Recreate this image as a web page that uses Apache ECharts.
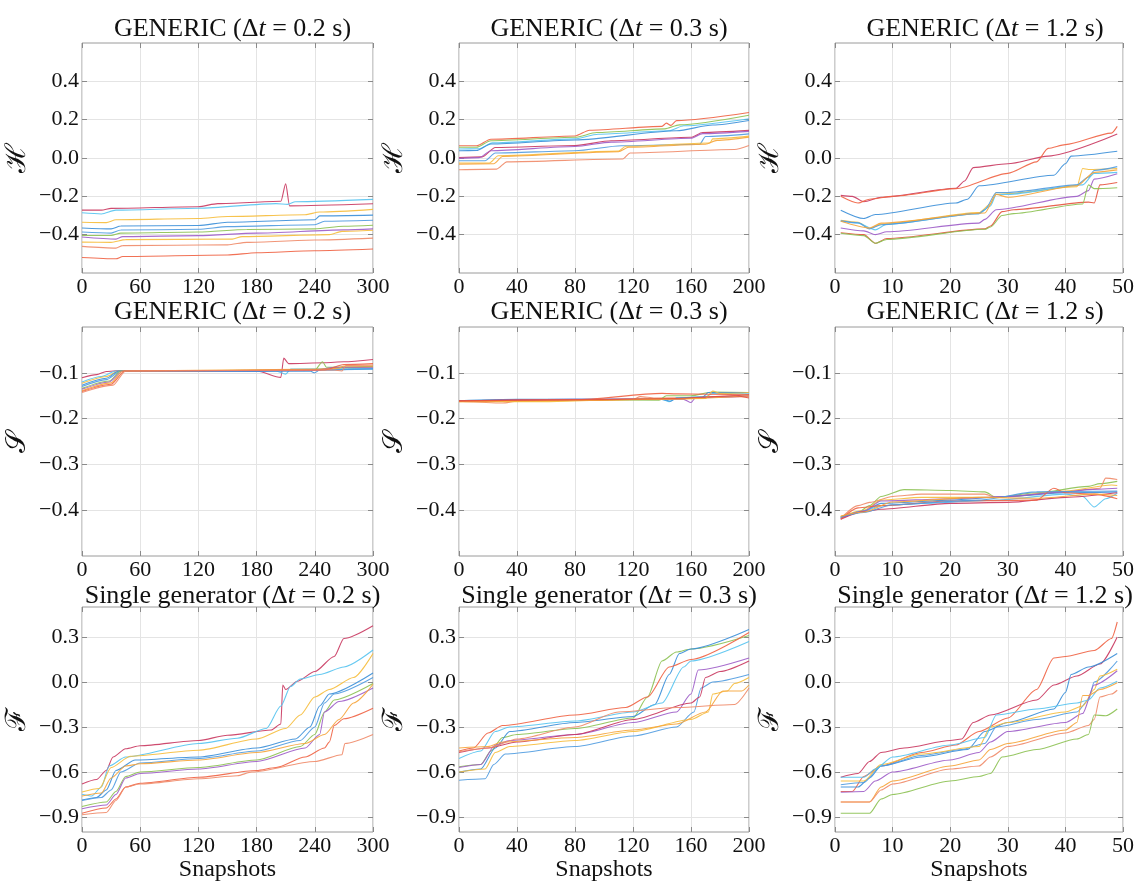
<!DOCTYPE html>
<html><head><meta charset="utf-8">
<script src="https://cdn.jsdelivr.net/npm/echarts@6/dist/echarts.min.js"></script>
<style>html,body{margin:0;padding:0;background:#fff}#c{width:1137px;height:883px}</style>
</head><body><div id="c"></div>
<script>
// ---------- tick labels / axes ----------
const xTicksCol1 = [0, 60, 120, 180, 240, 300];
const xTicksCol2 = [0, 40, 80, 120, 160, 200];
const xTicksCol3 = [0, 10, 20, 30, 40, 50];
const yTicksH = [-0.4, -0.2, 0.0, 0.2, 0.4];
const yTicksS = [-0.4, -0.3, -0.2, -0.1];
const yTicksF = [-0.9, -0.6, -0.3, 0.0, 0.3];
const rowTitles = ['GENERIC', 'GENERIC', 'Single generator'];
const colDt = ['0.2', '0.3', '1.2'];
const rowNames = ['ℋ', '𝒮', 'ℱ'];

// ---------- data: each panel = 10 series of [snapshot, value] ----------
const H02 = [
 [[0,-0.272],[20,-0.272],[30,-0.263],[120,-0.254],[140,-0.238],[205,-0.226],[210,-0.135],[214,-0.25],[300,-0.239]],
 [[0,-0.286],[20,-0.292],[35,-0.272],[120,-0.262],[200,-0.238],[212,-0.242],[220,-0.228],[300,-0.216]],
 [[0,-0.335],[25,-0.337],[35,-0.322],[120,-0.316],[150,-0.305],[230,-0.296],[245,-0.282],[300,-0.268]],
 [[0,-0.365],[30,-0.37],[40,-0.355],[120,-0.352],[150,-0.335],[240,-0.322],[245,-0.302],[300,-0.298]],
 [[0,-0.386],[30,-0.392],[40,-0.376],[120,-0.372],[150,-0.358],[240,-0.348],[250,-0.33],[300,-0.325]],
 [[0,-0.404],[30,-0.404],[40,-0.392],[120,-0.386],[170,-0.373],[240,-0.37],[270,-0.356],[300,-0.351]],
 [[0,-0.412],[35,-0.423],[42,-0.41],[120,-0.405],[180,-0.392],[270,-0.375],[300,-0.37]],
 [[0,-0.439],[30,-0.44],[45,-0.426],[155,-0.423],[165,-0.41],[255,-0.40],[268,-0.383],[300,-0.377]],
 [[0,-0.461],[35,-0.47],[42,-0.457],[150,-0.453],[170,-0.44],[240,-0.428],[300,-0.418]],
 [[0,-0.519],[35,-0.526],[42,-0.514],[150,-0.506],[180,-0.494],[240,-0.484],[300,-0.475]]
];
const H03 = [
 [[0,0.064],[12,0.064],[22,0.098],[80,0.115],[90,0.145],[140,0.165],[143,0.182],[146,0.17],[150,0.195],[200,0.237]],
 [[0,0.056],[12,0.056],[22,0.09],[80,0.108],[95,0.133],[142,0.152],[152,0.173],[200,0.223]],
 [[0,0.047],[14,0.048],[23,0.079],[80,0.1],[96,0.124],[145,0.142],[155,0.168],[200,0.205]],
 [[0,0.038],[12,0.039],[22,0.073],[80,0.094],[150,0.142],[175,0.172],[200,0.196]],
 [[0,0.003],[16,0.006],[25,0.055],[80,0.065],[105,0.09],[160,0.108],[168,0.133],[200,0.144]],
 [[0,-0.002],[14,0.002],[22,0.038],[80,0.06],[105,0.083],[160,0.103],[168,0.127],[200,0.139]],
 [[0,-0.014],[18,-0.014],[25,0.026],[80,0.038],[112,0.064],[166,0.072],[170,0.112],[200,0.126]],
 [[0,-0.026],[21,-0.026],[27,0.012],[110,0.036],[115,0.061],[173,0.078],[175,0.1],[200,0.114]],
 [[0,-0.032],[24,-0.03],[30,0.008],[110,0.033],[117,0.056],[170,0.072],[178,0.092],[200,0.109]],
 [[0,-0.061],[26,-0.058],[33,-0.02],[113,-0.005],[118,0.026],[190,0.044],[200,0.065]]
];
const H12 = [
 [[1,-0.195],[3,-0.2],[5,-0.228],[8,-0.205],[21,-0.158],[22.5,-0.12],[24,-0.05],[30,-0.03],[37,0.01],[49,0.125]],
 [[1,-0.2],[4,-0.235],[6,-0.215],[10,-0.2],[21,-0.16],[30,-0.08],[35,-0.02],[37,0.05],[40,0.07],[48,0.13],[49,0.165]],
 [[1,-0.272],[5,-0.316],[7,-0.295],[21,-0.235],[23,-0.215],[25,-0.145],[38,-0.09],[40,-0.03],[41,0.01],[49,0.035]],
 [[1,-0.325],[4,-0.335],[6,-0.368],[8,-0.345],[25,-0.285],[27,-0.24],[28,-0.18],[30,-0.185],[42,-0.15],[43,-0.055],[44,-0.06],[49,-0.055]],
 [[1,-0.33],[4,-0.34],[7,-0.375],[9,-0.345],[25,-0.29],[27,-0.25],[28,-0.19],[30,-0.19],[43,-0.14],[45,-0.08],[49,-0.075]],
 [[1,-0.328],[4,-0.338],[6,-0.37],[8,-0.348],[25,-0.29],[26,-0.27],[28,-0.18],[30,-0.18],[42,-0.14],[44,-0.1],[45,-0.065],[49,-0.045]],
 [[1,-0.33],[6,-0.365],[8,-0.34],[26,-0.287],[28,-0.19],[30,-0.205],[42,-0.145],[45,-0.075],[49,-0.062]],
 [[1,-0.365],[5,-0.38],[7,-0.4],[9,-0.385],[25,-0.34],[26,-0.32],[28,-0.27],[42,-0.2],[44,-0.17],[45,-0.11],[49,-0.082]],
 [[1,-0.39],[5,-0.4],[7,-0.445],[9,-0.42],[26,-0.37],[27,-0.355],[29,-0.28],[31,-0.27],[44,-0.23],[45,-0.235],[46,-0.14],[49,-0.128]],
 [[1,-0.393],[5,-0.405],[7,-0.445],[9,-0.425],[26,-0.372],[27,-0.36],[29,-0.3],[31,-0.29],[43,-0.24],[44,-0.14],[45,-0.16],[49,-0.155]]
];
const S02 = [
 [[0,-0.111],[15,-0.104],[25,-0.097],[40,-0.095],[120,-0.096],[180,-0.096],[205,-0.11],[208,-0.068],[213,-0.08],[250,-0.078],[270,-0.076],[300,-0.071]],
 [[0,-0.12],[20,-0.108],[35,-0.096],[120,-0.096],[200,-0.096],[210,-0.103],[215,-0.092],[300,-0.09]],
 [[0,-0.123],[25,-0.108],[38,-0.096],[120,-0.096],[240,-0.094],[260,-0.089],[300,-0.087]],
 [[0,-0.127],[25,-0.112],[38,-0.096],[180,-0.097],[235,-0.096],[240,-0.1],[245,-0.094],[300,-0.091]],
 [[0,-0.13],[25,-0.115],[40,-0.096],[200,-0.095],[300,-0.092]],
 [[0,-0.134],[28,-0.118],[40,-0.096],[240,-0.094],[248,-0.076],[252,-0.088],[300,-0.086]],
 [[0,-0.136],[28,-0.12],[42,-0.096],[240,-0.095],[260,-0.088],[300,-0.088]],
 [[0,-0.139],[30,-0.122],[42,-0.096],[250,-0.092],[265,-0.09],[270,-0.085],[300,-0.085]],
 [[0,-0.141],[30,-0.125],[44,-0.096],[250,-0.094],[270,-0.082],[300,-0.08]],
 [[0,-0.143],[32,-0.127],[45,-0.096],[260,-0.094],[268,-0.096],[272,-0.084],[300,-0.083]]
];
const S03 = [
 [[0,-0.162],[30,-0.166],[40,-0.162],[120,-0.158],[125,-0.152],[135,-0.155],[200,-0.152]],
 [[0,-0.162],[80,-0.159],[138,-0.16],[143,-0.15],[160,-0.15],[175,-0.142],[200,-0.143]],
 [[0,-0.162],[80,-0.158],[140,-0.158],[145,-0.163],[150,-0.155],[170,-0.152],[175,-0.145],[200,-0.146]],
 [[0,-0.161],[40,-0.158],[140,-0.158],[146,-0.162],[150,-0.155],[168,-0.153],[172,-0.143],[200,-0.143]],
 [[0,-0.161],[80,-0.159],[150,-0.157],[180,-0.152],[200,-0.148]],
 [[0,-0.162],[80,-0.158],[155,-0.158],[160,-0.165],[163,-0.155],[190,-0.152],[200,-0.15]],
 [[0,-0.163],[60,-0.163],[120,-0.158],[170,-0.156],[175,-0.14],[180,-0.145],[200,-0.143]],
 [[0,-0.163],[80,-0.16],[150,-0.157],[200,-0.15]],
 [[0,-0.162],[80,-0.159],[140,-0.145],[150,-0.146],[200,-0.148]],
 [[0,-0.161],[80,-0.159],[150,-0.156],[190,-0.15],[200,-0.155]]
];
const S12 = [
 [[1,-0.415],[4,-0.405],[6,-0.39],[8,-0.37],[12,-0.355],[20,-0.357],[26,-0.36],[28,-0.372],[35,-0.362],[44,-0.348],[46,-0.342],[49,-0.337]],
 [[1,-0.418],[4,-0.39],[6,-0.383],[10,-0.37],[15,-0.365],[26,-0.365],[28,-0.372],[40,-0.36],[46,-0.352],[47,-0.33],[49,-0.333]],
 [[1,-0.414],[5,-0.4],[8,-0.378],[15,-0.372],[28,-0.372],[30,-0.37],[40,-0.358],[48,-0.345],[49,-0.346]],
 [[1,-0.416],[5,-0.402],[8,-0.385],[20,-0.378],[30,-0.37],[40,-0.362],[49,-0.36]],
 [[1,-0.417],[5,-0.402],[8,-0.39],[15,-0.385],[28,-0.378],[40,-0.365],[43,-0.37],[45,-0.393],[47,-0.375],[49,-0.363]],
 [[1,-0.418],[5,-0.402],[8,-0.38],[20,-0.375],[30,-0.37],[40,-0.36],[44,-0.355],[49,-0.352]],
 [[1,-0.42],[5,-0.403],[8,-0.398],[20,-0.385],[30,-0.383],[40,-0.372],[49,-0.362]],
 [[1,-0.42],[4,-0.395],[8,-0.39],[20,-0.38],[35,-0.378],[38,-0.352],[40,-0.362],[45,-0.365],[49,-0.375]],
 [[1,-0.415],[5,-0.405],[10,-0.388],[25,-0.378],[35,-0.36],[49,-0.358]],
 [[1,-0.413],[5,-0.404],[10,-0.382],[25,-0.372],[35,-0.374],[45,-0.365],[49,-0.368]]
];
const F02 = [
 [[0,-0.68],[15,-0.65],[25,-0.59],[32,-0.5],[45,-0.445],[60,-0.425],[120,-0.39],[150,-0.355],[195,-0.32],[205,-0.28],[207,-0.02],[210,-0.05],[222,0.005],[240,0.07],[260,0.17],[270,0.29],[300,0.375]],
 [[0,-0.748],[10,-0.76],[20,-0.7],[28,-0.56],[45,-0.5],[120,-0.41],[160,-0.375],[190,-0.31],[205,-0.16],[215,-0.03],[225,0.02],[245,0.05],[270,0.1],[300,0.213]],
 [[0,-0.733],[18,-0.71],[30,-0.57],[50,-0.495],[120,-0.455],[180,-0.38],[210,-0.31],[225,-0.22],[240,-0.1],[255,-0.05],[280,0.03],[300,0.19]],
 [[0,-0.787],[15,-0.77],[25,-0.72],[35,-0.59],[55,-0.52],[120,-0.5],[180,-0.44],[220,-0.38],[235,-0.3],[245,-0.16],[255,-0.08],[300,0.06]],
 [[0,-0.79],[20,-0.77],[30,-0.72],[40,-0.6],[60,-0.54],[120,-0.51],[180,-0.46],[225,-0.39],[240,-0.3],[250,-0.14],[260,-0.08],[300,0.03]],
 [[0,-0.83],[25,-0.8],[35,-0.73],[45,-0.63],[60,-0.6],[120,-0.57],[180,-0.52],[225,-0.43],[240,-0.35],[250,-0.2],[260,-0.12],[300,-0.01]],
 [[0,-0.845],[25,-0.82],[35,-0.75],[45,-0.64],[60,-0.61],[120,-0.58],[180,-0.53],[230,-0.44],[245,-0.35],[250,-0.2],[265,-0.13],[300,-0.04]],
 [[0,-0.76],[20,-0.74],[30,-0.64],[45,-0.56],[60,-0.545],[120,-0.52],[180,-0.47],[230,-0.41],[250,-0.35],[265,-0.25],[280,-0.14],[300,-0.015]],
 [[0,-0.875],[25,-0.84],[35,-0.78],[45,-0.7],[60,-0.675],[120,-0.635],[180,-0.59],[200,-0.57],[230,-0.5],[250,-0.44],[255,-0.4],[260,-0.29],[270,-0.245],[300,-0.175]],
 [[0,-0.885],[25,-0.87],[35,-0.79],[45,-0.7],[60,-0.68],[120,-0.645],[160,-0.625],[175,-0.6],[240,-0.53],[268,-0.485],[271,-0.41],[300,-0.35]]
];
const F03 = [
 [[0,-0.565],[15,-0.55],[22,-0.46],[30,-0.37],[40,-0.35],[80,-0.31],[120,-0.24],[130,-0.1],[140,0.14],[150,0.2],[160,0.22],[200,0.31]],
 [[0,-0.6],[15,-0.58],[25,-0.44],[35,-0.33],[80,-0.27],[120,-0.23],[135,-0.15],[145,0.05],[152,0.19],[160,0.22],[200,0.35]],
 [[0,-0.655],[18,-0.645],[24,-0.55],[32,-0.48],[80,-0.43],[120,-0.36],[150,-0.3],[162,-0.2],[167,-0.04],[175,0],[200,0.05]],
 [[0,-0.46],[10,-0.44],[20,-0.34],[30,-0.29],[80,-0.22],[115,-0.17],[130,-0.1],[145,0.1],[160,0.15],[200,0.33]],
 [[0,-0.51],[15,-0.46],[25,-0.33],[35,-0.3],[80,-0.26],[120,-0.2],[140,-0.14],[155,0.1],[160,0.14],[200,0.27]],
 [[0,-0.57],[15,-0.55],[25,-0.42],[35,-0.39],[80,-0.35],[120,-0.27],[150,-0.2],[160,-0.08],[165,0.08],[200,0.16]],
 [[0,-0.47],[20,-0.44],[40,-0.4],[80,-0.35],[120,-0.25],[160,-0.14],[166,-0.1],[170,0.03],[180,0.07],[200,0.14]],
 [[0,-0.6],[18,-0.58],[25,-0.47],[35,-0.43],[80,-0.39],[120,-0.33],[160,-0.25],[172,-0.2],[175,-0.08],[185,-0.06],[190,-0.01],[200,0.03]],
 [[0,-0.44],[20,-0.43],[30,-0.4],[80,-0.37],[120,-0.32],[150,-0.28],[170,-0.2],[182,-0.06],[195,-0.06],[200,-0.02]],
 [[0,-0.465],[20,-0.44],[40,-0.38],[80,-0.3],[110,-0.2],[150,-0.17],[190,-0.15],[200,-0.04]]
];
const F12 = [
 [[1,-0.73],[3,-0.73],[5,-0.63],[8,-0.56],[15,-0.47],[21,-0.42],[25,-0.33],[30,-0.24],[35,-0.05],[38,0.16],[40,0.17],[45,0.21],[48,0.29],[49,0.4]],
 [[1,-0.635],[4,-0.61],[6,-0.53],[8,-0.47],[12,-0.44],[20,-0.39],[22,-0.38],[24,-0.27],[27,-0.22],[35,-0.12],[38,-0.02],[42,0.04],[46,0.12],[49,0.3]],
 [[1,-0.7],[4,-0.7],[6,-0.64],[8,-0.56],[15,-0.5],[23,-0.45],[26,-0.33],[30,-0.27],[38,-0.18],[40,-0.07],[41,0.05],[44,0.1],[49,0.19]],
 [[1,-0.685],[5,-0.67],[8,-0.56],[15,-0.49],[22,-0.45],[26,-0.41],[28,-0.3],[35,-0.25],[42,-0.2],[44,-0.12],[45,0.0],[49,0.14]],
 [[1,-0.66],[5,-0.66],[8,-0.55],[15,-0.48],[25,-0.43],[27,-0.3],[30,-0.27],[40,-0.2],[43,-0.16],[45,-0.05],[46,0.04],[49,0.085]],
 [[1,-0.735],[5,-0.73],[7,-0.66],[10,-0.6],[20,-0.52],[25,-0.47],[27,-0.4],[30,-0.33],[40,-0.27],[43,-0.21],[45,-0.02],[49,0.075]],
 [[1,-0.635],[5,-0.635],[7,-0.58],[10,-0.5],[20,-0.42],[26,-0.37],[28,-0.22],[35,-0.18],[42,-0.14],[44,-0.12],[46,-0.04],[49,0.005]],
 [[1,-0.8],[6,-0.8],[8,-0.7],[10,-0.66],[20,-0.56],[25,-0.52],[27,-0.45],[30,-0.41],[40,-0.32],[42,-0.27],[43,-0.09],[44,-0.09],[46,-0.05],[49,-0.005]],
 [[1,-0.8],[6,-0.8],[8,-0.72],[10,-0.68],[20,-0.58],[25,-0.56],[27,-0.5],[30,-0.43],[40,-0.34],[44,-0.29],[45,-0.25],[46,-0.1],[48,-0.08],[49,-0.055]],
 [[1,-0.875],[6,-0.875],[8,-0.78],[10,-0.75],[20,-0.66],[25,-0.63],[27,-0.61],[29,-0.5],[35,-0.45],[42,-0.38],[44,-0.35],[45,-0.22],[47,-0.225],[49,-0.18]]
];

// ---------- styles ----------
const palette = {
  crimson:'#c9375f', lightblue:'#55c3f0', gold:'#f6bd3b', blue:'#3a8ed8', blue2:'#4f9be0',
  green:'#8cc152', purple:'#9d5cc8', orange:'#f6a43a', redorange:'#ef6243', salmon:'#f08a68', red:'#e5533d'
};
const panelColors = [
 ['crimson','lightblue','gold','blue','blue2','green','purple','gold','salmon','redorange'],
 ['redorange','green','lightblue','blue','crimson','purple','blue2','gold','orange','salmon'],
 ['crimson','redorange','blue','gold','lightblue','blue2','orange','purple','red','green'],
 ['crimson','lightblue','gold','blue','blue2','green','purple','orange','redorange','salmon'],
 ['salmon','green','lightblue','blue','crimson','purple','gold','orange','redorange','red'],
 ['green','salmon','gold','blue','lightblue','purple','crimson','redorange','blue2','orange'],
 ['crimson','lightblue','gold','blue','blue2','green','purple','orange','redorange','salmon'],
 ['green','blue','blue2','redorange','lightblue','purple','crimson','gold','orange','salmon'],
 ['redorange','crimson','blue','blue2','gold','purple','lightblue','orange','salmon','green']
];
const panels = [H02, H03, H12, S02, S03, S12, F02, F03, F12];
const colX = [[0,300,60,xTicksCol1],[0,200,40,xTicksCol2],[0,50,10,xTicksCol3]];
const rowY = [[-0.6,0.6,yTicksH],[-0.5,0,yTicksS],[-1.0,0.5,yTicksF]];
const colLeft = [82, 459, 835], colWidth = [291, 290, 290];
const rowTop = [43, 327, 607], rowHeight = [230, 229, 230];
const titleTop = [11, 294, 578];

const SERIF = '"Liberation Serif", "DejaVu Serif", serif';
const fmt = v => { const r = Math.round(v*10)/10; return (r < 0 ? '\u2212' : '') + Math.abs(r).toFixed(1); };

const grid = [], xAxis = [], yAxis = [], series = [], title = [];
for (let r = 0; r < 3; r++) {
  for (let c = 0; c < 3; c++) {
    const i = r*3 + c;
    grid.push({left: colLeft[c], top: rowTop[r], width: colWidth[c], height: rowHeight[r],
      show: true, borderColor: '#9a9a9a', borderWidth: 1, backgroundColor: '#fff'});
    title.push({
      text: rowTitles[r] + ' (Δ{i|t} = ' + colDt[c] + ' s)',
      left: colLeft[c] + colWidth[c]/2, top: titleTop[r], textAlign: 'center',
      textStyle: {fontFamily: SERIF, fontSize: 26, fontWeight: 'normal', color: '#111',
        rich: {i: {fontFamily: SERIF, fontSize: 26, fontStyle: 'italic', color: '#111'}}}
    });
    const [xmin, xmax, xint, xt] = colX[c];
    const [ymin, ymax, yt] = rowY[r];
    const tickStyle = {show: true, inside: true, length: 5, lineStyle: {color: '#8a8a8a', width: 1}};
    const noLine = {show: false, onZero: false};
    xAxis.push({type: 'value', gridIndex: i, min: xmin, max: xmax, interval: xint, position: 'bottom',
      axisLine: noLine, axisTick: Object.assign({customValues: xt}, tickStyle),
      axisLabel: {customValues: xt, fontFamily: SERIF, fontSize: 22, color: '#111', margin: 3, showMinLabel: true, showMaxLabel: true},
      splitLine: {show: true, lineStyle: {color: '#e4e4e4', width: 1}},
      name: r === 2 ? 'Snapshots' : '', nameLocation: 'middle', nameGap: 26,
      nameTextStyle: {fontFamily: SERIF, fontSize: 24, color: '#111'}});
    xAxis.push({type: 'value', gridIndex: i, min: xmin, max: xmax, interval: xint, position: 'top',
      axisLine: noLine, axisTick: Object.assign({customValues: xt}, tickStyle),
      axisLabel: {show: false}, splitLine: {show: false}});
    yAxis.push({type: 'value', gridIndex: i, min: ymin, max: ymax, interval: 0.1, position: 'left',
      axisLine: noLine, axisTick: Object.assign({customValues: yt}, tickStyle),
      axisLabel: {customValues: yt, formatter: fmt, fontFamily: SERIF, fontSize: 22, color: '#111', margin: 3},
      splitLine: {show: true, lineStyle: {color: '#e4e4e4', width: 1}},
      name: rowNames[r], nameLocation: 'middle', nameRotate: 90, nameGap: 50,
      nameTextStyle: {fontFamily: '"DejaVu Serif", serif', fontSize: 28, color: '#111'}});
    yAxis.push({type: 'value', gridIndex: i, min: ymin, max: ymax, interval: 0.1, position: 'right',
      axisLine: noLine, axisTick: Object.assign({customValues: yt}, tickStyle),
      axisLabel: {show: false}, splitLine: {show: false}});
    panels[i].forEach((pts, k) => {
      series.push({type: 'line', xAxisIndex: i*2, yAxisIndex: i*2, data: pts,
        showSymbol: false, symbol: 'none', smooth: 0.25, smoothMonotone: 'x', silent: true,
        lineStyle: {width: 1.1, color: palette[panelColors[i][k]], opacity: 0.9}});
    });
  }
}

const chart = echarts.init(document.getElementById('c'), null, {renderer: 'canvas'});
chart.setOption({backgroundColor: '#fff', animation: false, title, grid, xAxis, yAxis, series});
</script></body></html>
